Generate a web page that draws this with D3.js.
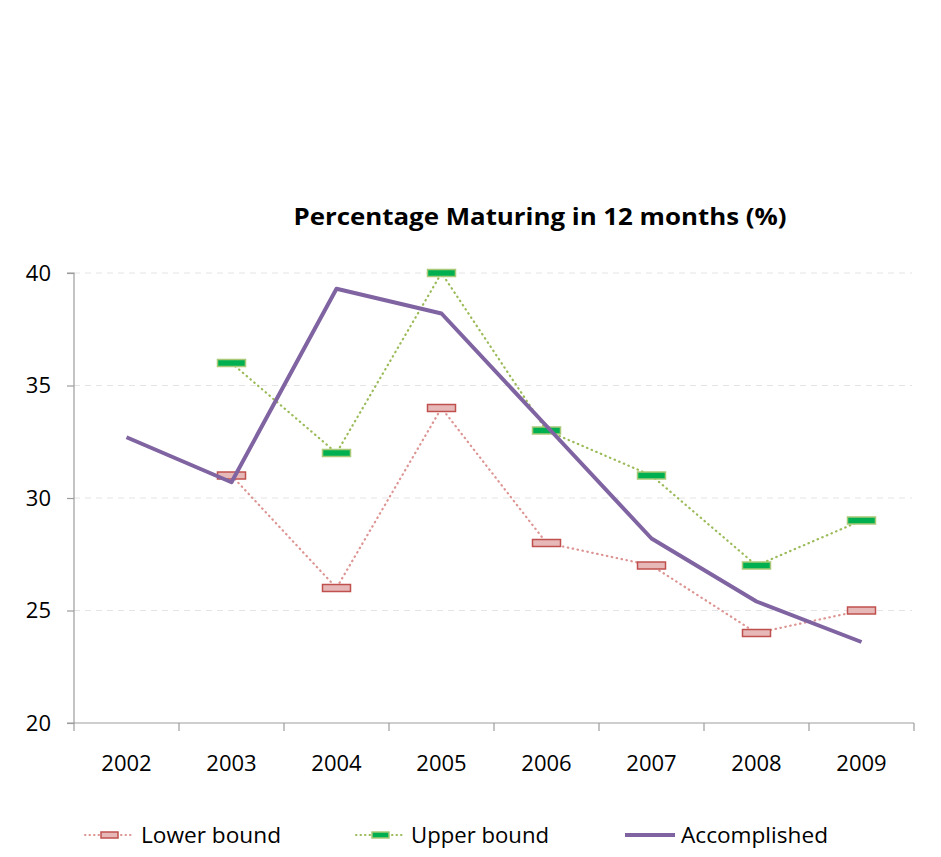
<!DOCTYPE html>
<html>
<head>
<meta charset="UTF-8">
<script src="https://d3js.org/d3.v7.min.js"></script>
<style>
  body { margin: 0; background: #fff; }
  text { font-family: "Open Sans", "Noto Sans", sans-serif; fill: #000; }
</style>
</head>
<body>
<script>
var years = ["2002", "2003", "2004", "2005", "2006", "2007", "2008", "2009"];
var lowerBound = [null, 31, 26, 34, 28, 27, 24, 25];
var upperBound = [null, 36, 32, 40, 33, 31, 27, 29];
var accomplished = [32.7, 30.7, 39.3, 38.2, 33.2, 28.2, 25.4, 23.6];
var yTicks = [20, 25, 30, 35, 40];
var seriesNames = ["Lower bound", "Upper bound", "Accomplished"];

var width = 941, height = 857;
var plotLeft = 74, plotRight = 914, plotTop = 273, plotBottom = 723;

var svg = d3.select("body").append("svg")
  .attr("width", width)
  .attr("height", height);

var x = d3.scaleBand().domain(years).range([plotLeft, plotRight]);
var y = d3.scaleLinear().domain([20, 40]).range([plotBottom, plotTop]);
var cx = function(i) { return x(years[i]) + x.bandwidth() / 2; };

// title
svg.append("text")
  .attr("x", 540).attr("y", 225)
  .attr("text-anchor", "middle")
  .style("font-size", "24px")
  .style("font-weight", "bold")
  .attr("textLength", 493)
  .attr("lengthAdjust", "spacingAndGlyphs")
  .text("Percentage Maturing in 12 months (%)");

// gridlines
svg.append("g").selectAll("line")
  .data(yTicks.filter(function(d) { return d > 20; }))
  .enter().append("line")
  .attr("x1", plotLeft).attr("x2", plotRight - 2)
  .attr("y1", function(d) { return y(d); })
  .attr("y2", function(d) { return y(d); })
  .attr("stroke", "#e4e4e4")
  .attr("stroke-dasharray", "6,5");

// axes
var yAxis = svg.append("g")
  .attr("transform", "translate(" + plotLeft + ",0)")
  .call(d3.axisLeft(y).tickValues(yTicks).tickSize(7).tickPadding(16));
var xAxis = svg.append("g")
  .attr("transform", "translate(0," + plotBottom + ")")
  .call(d3.axisBottom(x).tickSize(0).tickPadding(32));
xAxis.selectAll(".tick line").remove();
xAxis.append("g").selectAll("line")
  .data(d3.range(years.length + 1))
  .enter().append("line")
  .attr("x1", function(i) { return plotLeft + i * x.step(); })
  .attr("x2", function(i) { return plotLeft + i * x.step(); })
  .attr("y1", 0).attr("y2", 8);
[yAxis, xAxis].forEach(function(a) {
  a.selectAll(".domain, line").attr("stroke", "#9d9d9d").attr("stroke-width", 1.2);
  a.selectAll("text").style("font-size", "22px").attr("fill", "#000");
});
yAxis.select(".domain").attr("d", "M-7," + plotTop + "H0V" + plotBottom + "H-7");
xAxis.select(".domain").attr("d", "M" + plotLeft + ",0H" + plotRight);

var line = d3.line()
  .defined(function(d) { return d != null; })
  .x(function(d, i) { return cx(i); })
  .y(function(d) { return y(d); });

// lower bound
svg.append("path").datum(lowerBound)
  .attr("d", line).attr("fill", "none")
  .attr("stroke", "#dc9593").attr("stroke-width", 2.2)
  .attr("stroke-dasharray", "0.5,4.5").attr("stroke-linecap", "round");
// upper bound
svg.append("path").datum(upperBound)
  .attr("d", line).attr("fill", "none")
  .attr("stroke", "#9bbb59").attr("stroke-width", 2.2)
  .attr("stroke-dasharray", "0.5,4.5").attr("stroke-linecap", "round");

function markers(data, fill, stroke) {
  svg.append("g").selectAll("rect")
    .data(data.map(function(d, i) { return { v: d, i: i }; }).filter(function(d) { return d.v != null; }))
    .enter().append("rect")
    .attr("x", function(d) { return cx(d.i) - 14; })
    .attr("y", function(d) { return y(d.v) - 3.5; })
    .attr("width", 28).attr("height", 7)
    .attr("fill", fill).attr("stroke", stroke).attr("stroke-width", 1.5);
}
markers(lowerBound, "#e6b9b8", "#c0504d");
markers(upperBound, "#00b050", "#a9c978");

// accomplished
svg.append("path").datum(accomplished)
  .attr("d", line).attr("fill", "none")
  .attr("stroke", "#8064a2").attr("stroke-width", 4)
  .attr("stroke-linejoin", "round");

// legend
var legend = [
  { name: seriesNames[0], x: 85, tx: 141, tw: 140, type: "lower" },
  { name: seriesNames[1], x: 356, tx: 411, tw: 138, type: "upper" },
  { name: seriesNames[2], x: 625, tx: 681, tw: 147, type: "acc" }
];
var ly = 835;
legend.forEach(function(l) {
  var g = svg.append("g");
  if (l.type === "acc") {
    g.append("line").attr("x1", l.x).attr("x2", l.x + 50).attr("y1", ly).attr("y2", ly)
      .attr("stroke", "#8064a2").attr("stroke-width", 4);
  } else {
    var c = l.type === "lower" ? "#dc9593" : "#9bbb59";
    g.append("line").attr("x1", l.x).attr("x2", l.x + 49).attr("y1", ly).attr("y2", ly)
      .attr("stroke", c).attr("stroke-width", 2).attr("stroke-dasharray", "0.5,4").attr("stroke-linecap", "round");
    g.append("rect").attr("x", l.x + 16).attr("y", ly - 3).attr("width", 17).attr("height", 6)
      .attr("fill", l.type === "lower" ? "#e6b9b8" : "#00b050")
      .attr("stroke", l.type === "lower" ? "#c0504d" : "#a9c978").attr("stroke-width", 1.5);
  }
  g.append("text").attr("x", l.tx).attr("y", ly + 8).style("font-size", "22px")
    .attr("textLength", l.tw).attr("lengthAdjust", "spacingAndGlyphs").text(l.name);
});
</script>
</body>
</html>
